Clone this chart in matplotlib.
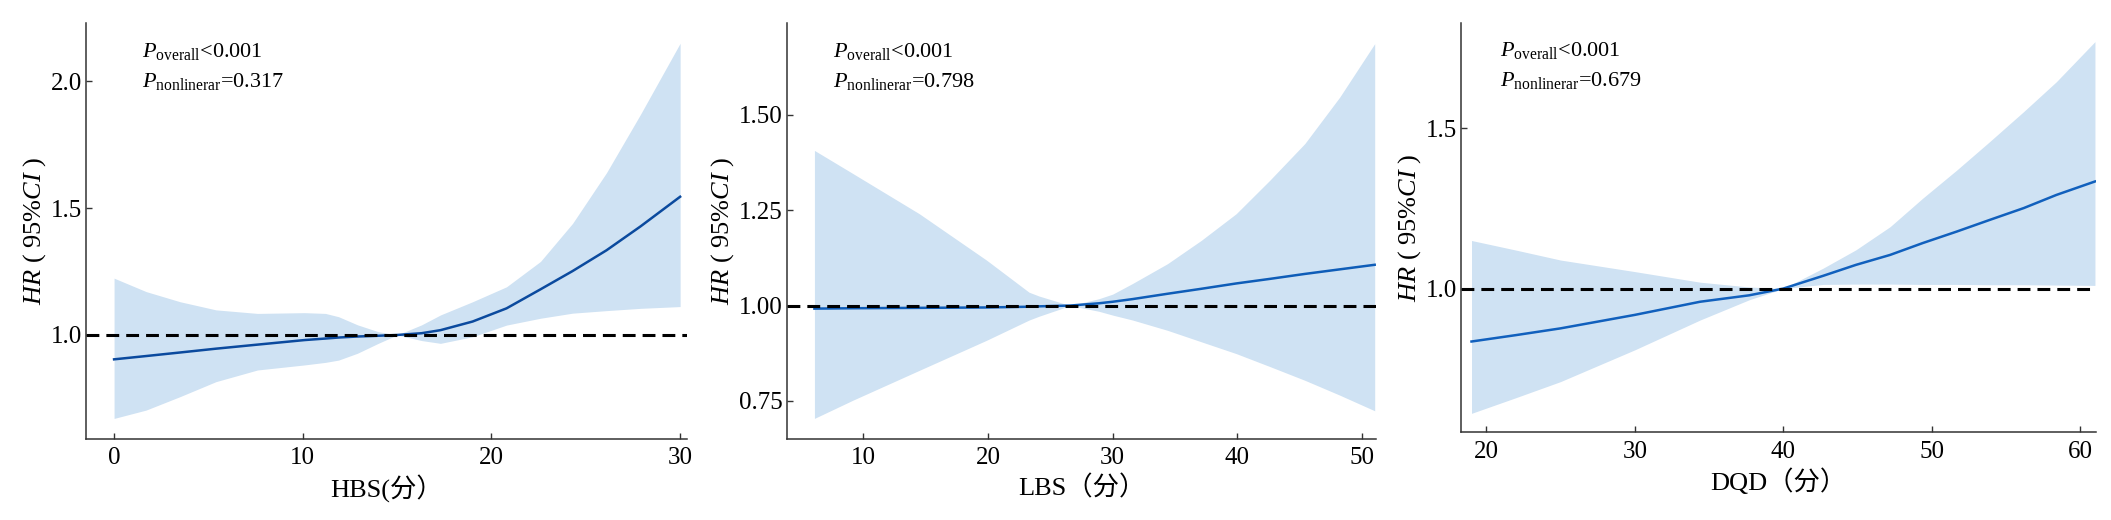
import matplotlib
matplotlib.use("Agg")
import matplotlib.pyplot as plt

plt.rcParams['font.family'] = ['Liberation Serif', 'Noto Sans CJK SC']
plt.rcParams['mathtext.fontset'] = 'custom'
plt.rcParams['mathtext.rm'] = 'Liberation Serif'
plt.rcParams['mathtext.it'] = 'Liberation Serif:italic'
plt.rcParams['mathtext.bf'] = 'Liberation Serif:bold'

# HBS panel
x_hbs = [0, 1.7, 3.5, 5.4, 7.6, 10.1, 11.2, 11.9, 12.9, 14.0, 15.0, 16.3, 17.3, 19.0, 20.8,
         22.6, 24.3, 26.1, 27.9, 30.0]
hr_hbs = [0.904, 0.917, 0.931, 0.946, 0.962, 0.980, 0.986, 0.990, 0.994, 0.997, 1.000, 1.007,
          1.019, 1.053, 1.105, 1.180, 1.252, 1.334, 1.428, 1.545]
up_hbs = [1.224, 1.171, 1.131, 1.099, 1.085, 1.088, 1.085, 1.072, 1.040, 1.013, 1.000, 1.040,
          1.079, 1.131, 1.190, 1.290, 1.440, 1.640, 1.870, 2.150]
lo_hbs = [0.671, 0.704, 0.757, 0.816, 0.862, 0.882, 0.892, 0.901, 0.928, 0.967, 1.000, 0.978,
          0.967, 0.993, 1.039, 1.066, 1.086, 1.096, 1.105, 1.112]

# LBS panel
x_lbs = [6.1, 9.2, 14.5, 19.9, 23.3, 24.1, 26.6, 28.9, 30.0, 31.6, 34.4, 37.1, 39.9, 42.6,
         45.4, 48.2, 51.0]
hr_lbs = [0.992, 0.993, 0.994, 0.995, 0.997, 0.998, 1.000, 1.006, 1.010, 1.017, 1.031, 1.044,
          1.058, 1.070, 1.083, 1.095, 1.107]
up_lbs = [1.407, 1.346, 1.241, 1.119, 1.035, 1.025, 1.000, 1.018, 1.030, 1.058, 1.110, 1.171,
          1.241, 1.329, 1.425, 1.547, 1.687]
lo_lbs = [0.704, 0.752, 0.830, 0.909, 0.962, 0.972, 1.000, 0.985, 0.975, 0.962, 0.935, 0.905,
          0.874, 0.840, 0.804, 0.765, 0.724]

# DQD panel
x_dqd = [19.0, 22.0, 25.0, 30.0, 34.4, 37.7, 40.0, 42.7, 44.9, 47.2, 49.4, 51.7, 53.9, 56.2,
         58.4, 61.0]
hr_dqd = [0.835, 0.855, 0.876, 0.918, 0.959, 0.979, 1.000, 1.040, 1.074, 1.105, 1.142, 1.178,
          1.214, 1.251, 1.292, 1.334]
up_dqd = [1.150, 1.120, 1.089, 1.053, 1.020, 1.005, 1.000, 1.064, 1.121, 1.193, 1.282, 1.370,
          1.458, 1.552, 1.645, 1.770]
lo_dqd = [0.611, 0.660, 0.710, 0.809, 0.902, 0.965, 1.000, 1.013, 1.014, 1.014, 1.013, 1.013,
          1.012, 1.012, 1.011, 1.010]

xlabels = ['HBS(分）', 'LBS（分）', 'DQD（分）']
p_overall = ['<0.001', '<0.001', '<0.001']
p_nonlin = ['=0.317', '=0.798', '=0.679']

fig = plt.figure(figsize=(21.11, 5.2), dpi=100)
ax1 = fig.add_axes([0.0409, 0.1558, 0.2845, 0.8005])
ax2 = fig.add_axes([0.3728, 0.1558, 0.2790, 0.8005])
ax3 = fig.add_axes([0.6920, 0.1687, 0.3011, 0.7876])

panels = [
    (ax1, x_hbs, hr_hbs, up_hbs, lo_hbs, (-1.47, 30.36), (0.59, 2.231), [0, 10, 20, 30],
     [1.0, 1.5, 2.0], '%.1f', 0.093, '#0b4a9e'),
    (ax2, x_lbs, hr_lbs, up_lbs, lo_lbs, (3.9, 51.1), (0.65, 1.742), [10, 20, 30, 40, 50],
     [0.75, 1.00, 1.25, 1.50], '%.2f', 0.078, '#0f5db8'),
    (ax3, x_dqd, hr_dqd, up_dqd, lo_dqd, (18.28, 61.1), (0.552, 1.829), [20, 30, 40, 50, 60],
     [1.0, 1.5], '%.1f', 0.061, '#1160bd'),
]

for i, (ax, x, hr, up, lo, xl, yl, xt, yt, fmt, tx, col) in enumerate(panels):
    ax.fill_between(x, lo, up, color='#cfe2f3', linewidth=0)
    ax.plot(x, hr, color=col, linewidth=1.8)
    ax.axhline(1.0, color='black', linewidth=2.2, linestyle=(0, (4.2, 2.3)))
    ax.set_xlim(xl)
    ax.set_ylim(yl)
    ax.set_xticks(xt)
    ax.set_yticks(yt)
    ax.set_yticklabels([fmt % v for v in yt])
    for s in ['top', 'right']:
        ax.spines[s].set_visible(False)
    for s in ['left', 'bottom']:
        ax.spines[s].set_color('#333333')
        ax.spines[s].set_linewidth(1.1)
    ax.tick_params(direction='in', length=4.5, width=1, color='#333333', labelsize=18)
    ax.tick_params(axis='x', pad=6)
    ax.tick_params(axis='y', pad=3)
    ax.set_xlabel(xlabels[i], fontsize=19, labelpad=4)
    ax.set_ylabel(r'$\mathit{HR}$ ( 95%$\mathit{CI}$ )', fontsize=19, labelpad=2)
    ax.text(tx, 0.918, r'$\mathit{P}_{\mathrm{overall}}$' + p_overall[i],
            transform=ax.transAxes, fontsize=16, va='baseline')
    ax.text(tx, 0.846, r'$\mathit{P}_{\mathrm{nonlinerar}}$' + p_nonlin[i],
            transform=ax.transAxes, fontsize=16, va='baseline')

fig.savefig('out.png', dpi=100)
